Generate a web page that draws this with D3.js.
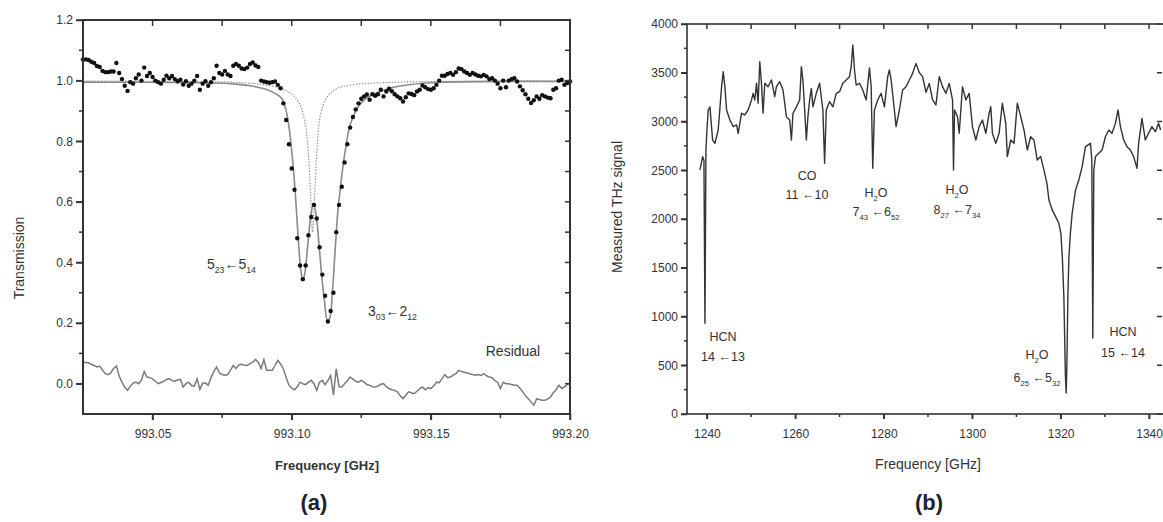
<!DOCTYPE html>
<html>
<head>
<meta charset="utf-8">
<script src="https://cdn.jsdelivr.net/npm/d3@7/dist/d3.min.js"></script>
<style>
body{margin:0;background:#fff;}
svg{position:absolute;left:0;top:0;}
text{font-family:"Liberation Sans",Arial,sans-serif;fill:#333;}
</style>
</head>
<body>
<script>
// ---- panel (a): transmission around 993.1 GHz ----
// measured points, sampled every 1 MHz starting at 993.025 GHz
var aStart = 993.025, aStep = 0.001;
var aTrans = [1.07,1.07,1.068,1.062,1.058,1.048,1.045,1.032,1.028,1.028,
  1.03,1.03,1.058,1.025,1.005,0.983,0.966,0.995,0.99,1.008,
  1.02,1.0,1.043,1.015,1.025,1.012,1.0,0.995,0.99,1.003,
  1.016,1.008,1.015,1.005,0.998,1.003,0.987,0.998,0.983,0.99,
  1.0,1.015,0.97,0.99,0.998,0.983,0.995,1.008,1.049,1.025,
  1.02,1.032,1.02,1.015,1.049,1.055,1.049,1.04,1.038,1.043,
  1.055,1.06,1.05,1.045,1.0,0.997,0.995,0.993,0.995,0.997,
  0.986,0.975,0.925,0.87,0.79,0.71,0.64,0.48,0.39,0.345,
  0.39,0.49,0.55,0.59,0.545,0.45,0.36,0.29,0.205,0.24,
  0.3,0.5,0.59,0.65,0.73,0.79,0.845,0.88,0.905,0.925,
  0.94,0.948,0.954,0.937,0.955,0.95,0.955,0.97,0.948,0.964,
  0.973,0.965,0.955,0.948,0.942,0.931,0.945,0.958,0.956,0.952,
  0.964,0.97,0.984,0.978,0.972,0.97,0.975,0.986,1.0,1.016,
  1.016,1.022,1.025,1.019,1.028,1.04,1.038,1.03,1.025,1.019,
  1.025,1.02,1.016,1.014,1.019,1.014,1.005,1.008,1.0,0.99,
  0.975,1.0,0.978,1.0,1.005,1.008,0.997,0.981,0.968,0.955,
  0.94,0.926,0.935,0.948,0.94,0.952,0.948,0.944,0.942,0.97,
  0.975,1.0,1.003,0.986,0.992,0.997];
var aResidual = [0.071,0.07,0.069,0.064,0.06,0.055,0.058,0.045,0.033,0.03,
  0.036,0.05,0.058,0.025,0.005,-0.012,-0.022,-0.008,0.002,0.005,
  0.0,0.012,0.04,0.022,0.02,0.016,0.008,0.0,0.004,0.008,
  0.014,0.017,0.01,0.008,0.012,0.014,-0.011,0.0,0.005,-0.006,
  -0.008,0.016,-0.019,0.002,0.002,-0.005,0.02,0.04,0.055,0.036,
  0.03,0.028,0.03,0.045,0.06,0.05,0.062,0.064,0.061,0.06,
  0.066,0.071,0.08,0.07,0.05,0.08,0.044,0.044,0.044,0.06,
  0.077,0.065,0.049,0.02,-0.005,-0.015,-0.02,-0.01,0.005,0.0,
  -0.003,0.005,0.011,0.0,-0.022,0.005,0.011,-0.003,0.01,0.027,
  -0.038,0.049,-0.01,-0.011,0.0,0.01,0.022,0.015,0.008,0.005,
  0.011,0.005,-0.003,-0.005,-0.01,-0.011,-0.008,-0.002,0.0,-0.01,
  -0.016,-0.02,-0.022,-0.027,-0.04,-0.049,-0.038,-0.027,-0.03,-0.033,
  -0.025,-0.016,-0.011,-0.02,-0.013,-0.016,-0.008,0.005,0.003,0.016,
  0.03,0.02,0.022,0.028,0.033,0.044,0.04,0.038,0.035,0.033,
  0.03,0.028,0.03,0.027,0.033,0.026,0.022,0.02,0.01,0.005,
  -0.016,0.005,0.0,0.0,-0.003,-0.005,-0.005,-0.015,-0.027,-0.04,
  -0.05,-0.06,-0.071,-0.05,-0.052,-0.055,-0.055,-0.05,-0.044,-0.03,
  -0.02,-0.005,-0.015,-0.011,-0.003,0.0];
// two-line fit (solid grey)
var aFitFreq = [993.025,993.067,993.0778,993.085,993.0904,993.094,993.0965,993.098,993.0992,993.1002,
  993.1012,993.1022,993.1032,993.104,993.1048,993.1058,993.1068,993.1078,993.1088,993.1098,
  993.1108,993.1118,993.1128,993.1136,993.1146,993.1156,993.1166,993.1176,993.1186,993.1196,
  993.1206,993.122,993.124,993.1265,993.132,993.139,993.15,993.2];
var aFitT = [0.995,0.993,0.99,0.983,0.972,0.958,0.94,0.9,0.835,0.75,
  0.64,0.5,0.38,0.34,0.37,0.46,0.55,0.595,0.555,0.46,
  0.355,0.27,0.21,0.215,0.3,0.44,0.57,0.655,0.73,0.79,
  0.84,0.88,0.915,0.94,0.965,0.982,0.993,0.997];
// narrow single-line profile (dotted)
var aLineFreq = [993.025,993.0778,993.0886,993.0958,993.1001,993.103,993.1048,993.1059,993.1068,993.1075,
  993.1082,993.1091,993.1102,993.1123,993.1159,993.1209,993.1389,993.2];
var aLineT = [0.998,0.995,0.988,0.975,0.955,0.92,0.86,0.77,0.62,0.5,
  0.62,0.77,0.88,0.94,0.972,0.985,0.995,0.999];
var aXTicks = [993.05, 993.10, 993.15, 993.20];
var aXMinor = [993.075, 993.125, 993.175];
var aYTicks = [0.0, 0.2, 0.4, 0.6, 0.8, 1.0, 1.2];
var aYMinor = [0.1, 0.3, 0.5, 0.7, 0.9, 1.1];

// ---- panel (b): THz spectrum ----
var bFreq = [1238.43,1239.04,1239.33,1239.56,1239.78,1240.01,1240.3,1240.69,1241.29,1241.81,
  1242.56,1243.32,1243.69,1244.07,1244.45,1245.2,1245.94,1246.71,1247.07,1247.83,
  1248.58,1249.32,1250.09,1250.45,1250.83,1251.22,1251.58,1251.96,1252.34,1252.7,
  1253.09,1253.83,1254.6,1255.34,1255.73,1256.47,1257.21,1257.98,1258.72,1259.11,
  1259.47,1260.24,1260.98,1261.36,1261.72,1262.11,1262.49,1262.85,1263.23,1263.62,
  1263.98,1264.74,1265.49,1266.23,1266.62,1267.0,1267.74,1268.49,1269.25,1270.0,
  1270.74,1271.51,1272.25,1272.64,1273.0,1273.38,1273.76,1274.51,1275.25,1276.02,
  1276.76,1277.15,1277.51,1277.89,1278.63,1279.4,1280.15,1280.89,1281.27,1281.66,
  1282.4,1282.78,1283.53,1284.27,1285.04,1285.78,1286.53,1287.29,1288.04,1288.78,
  1289.55,1290.29,1291.04,1291.8,1292.55,1293.29,1294.06,1294.8,1295.55,1295.77,
  1296.0,1296.67,1297.06,1297.8,1298.57,1299.31,1300.06,1300.82,1301.57,1302.31,
  1303.08,1303.82,1304.2,1304.57,1305.33,1306.08,1306.82,1307.59,1307.95,1308.71,
  1309.46,1310.2,1310.97,1311.71,1312.46,1313.22,1313.97,1314.71,1315.48,1316.22,
  1316.9,1317.35,1318.09,1318.86,1319.6,1320.06,1320.39,1320.73,1321.07,1321.25,
  1321.41,1321.63,1321.86,1322.2,1322.6,1323.37,1324.11,1324.86,1325.62,1326.75,
  1327.05,1327.27,1327.5,1327.88,1328.62,1329.37,1330.13,1330.88,1331.62,1332.39,
  1332.98,1333.52,1334.26,1335.0,1335.77,1336.52,1337.26,1337.64,1338.39,1339.15,
  1339.9,1340.64,1341.41,1342.15,1342.6];
var bSignal = [2503,2640,2600,930,2700,2913,3118,3150,2810,2776,
  2913,3357,3511,3357,3118,3015,2947,2965,2879,3084,
  3067,3118,3221,3289,3221,3392,3187,3613,3392,3084,
  3392,3357,3426,3255,3357,3408,3323,3050,3015,2810,
  3084,3150,3221,3562,3426,3118,2810,3050,3221,3340,
  3150,3289,3392,3118,2571,3118,3204,3150,3289,3306,
  3392,3426,3460,3562,3784,3528,3374,3392,3323,3221,
  3550,3357,2520,3118,3221,3289,3150,3460,3528,3426,
  3118,2947,3118,3323,3357,3426,3494,3596,3500,3460,
  3300,3390,3221,3170,3460,3357,3289,3391,3221,2503,
  3118,3050,2879,3357,3221,3289,2947,2810,2947,3015,
  2879,3084,3152,2879,2776,2879,3187,2981,2640,2810,
  2776,3187,3050,2913,2708,2844,2810,2605,2640,2503,
  2366,2195,2093,2024,1956,1850,1600,1200,400,215,
  500,1200,1600,1853,2058,2298,2400,2537,2742,2776,
  2600,780,2500,2640,2674,2708,2844,2913,2879,2981,
  3118,2947,2810,2742,2708,2640,2520,2776,3032,2810,
  2879,2947,2896,2981,2913];
var bXTicks = [1240, 1260, 1280, 1300, 1320, 1340];
var bXMinor = [1250, 1270, 1290, 1310, 1330];
var bYTicks = [0, 500, 1000, 1500, 2000, 2500, 3000, 3500, 4000];
var bYMinor = [250, 750, 1250, 1750, 2250, 2750, 3250, 3750];

var svg = d3.select("body").append("svg")
  .attr("width", 1163).attr("height", 522);
// separate top layer for plot boxes and tick marks
var over = d3.select("body").append("svg")
  .attr("width", 1163).attr("height", 522);

// text with subscripts: parts = [[text, isSub], ...]
function richText(x, y, parts, size, anchor) {
  var t = svg.append("text").attr("x", x).attr("y", y)
    .attr("font-size", size).attr("text-anchor", anchor || "middle");
  var down = false;
  parts.forEach(function(p) {
    var s = t.append("tspan").text(p[0]);
    if (p[1] && !down) { s.attr("dy", 4).attr("font-size", size * 0.62); down = true; }
    else if (p[1]) { s.attr("font-size", size * 0.62); }
    else if (down) { s.attr("dy", -4); down = false; }
  });
  return t;
}

function seg(x1, y1, x2, y2, w) {
  over.append("line").attr("x1", x1).attr("y1", y1).attr("x2", x2).attr("y2", y2)
    .attr("stroke", "#333").attr("stroke-width", w);
}
function box(x0, y0, x1, y1, w) {
  over.append("rect").attr("x", x0).attr("y", y0)
    .attr("width", x1 - x0).attr("height", y1 - y0)
    .attr("fill", "none").attr("stroke", "#333").attr("stroke-width", w);
}
// ticks from a scale: side "b","t","l","r"; len > 0 goes outward
function ticks(scale, vals, pos, side, len) {
  vals.forEach(function(v) {
    var p = scale(v);
    if (side === "b") seg(p, pos, p, pos + len, 1.5);
    if (side === "t") seg(p, pos, p, pos - len, 1.5);
    if (side === "l") seg(pos, p, pos - len, p, 1.5);
    if (side === "r") seg(pos, p, pos + len, p, 1.5);
  });
}

// ===== panel (a) =====
var xa = d3.scaleLinear().domain([993.025, 993.2]).range([83, 570]);
var ya = d3.scaleLinear().domain([-0.1, 1.2]).range([414, 20]);
var ga = svg.append("g");

var aFreq = aTrans.map(function(d, i) { return aStart + i * aStep; });

var lineA = d3.line().curve(d3.curveCatmullRom.alpha(0.5));

ga.append("path")
  .attr("d", lineA(aLineFreq.map(function(f, i) { return [xa(f), ya(aLineT[i])]; })))
  .attr("fill", "none").attr("stroke", "#999").attr("stroke-width", 1.2)
  .attr("stroke-dasharray", "1.5,1.5");

ga.append("path")
  .attr("d", lineA(aFitFreq.map(function(f, i) { return [xa(f), ya(aFitT[i])]; })))
  .attr("fill", "none").attr("stroke", "#8a8a8a").attr("stroke-width", 1.6);

ga.append("path")
  .attr("d", d3.line()(aFreq.map(function(f, i) { return [xa(f), ya(aResidual[i])]; })))
  .attr("fill", "none").attr("stroke", "#7a7a7a").attr("stroke-width", 1.5);

ga.selectAll("circle.pt").data(aTrans).enter().append("circle")
  .attr("class", "pt")
  .attr("cx", function(d, i) { return xa(aFreq[i]); })
  .attr("cy", function(d) { return ya(d); })
  .attr("r", 2.2).attr("fill", "#111");

// tick labels of (a) from d3 axes
var axA = ga.append("g");
axA.append("g").attr("transform", "translate(0,414)")
  .call(d3.axisBottom(xa).tickValues(aXTicks).tickSize(6).tickPadding(9).tickFormat(d3.format(".2f")));
axA.append("g").attr("transform", "translate(83,0)")
  .call(d3.axisLeft(ya).tickValues(aYTicks).tickSize(7).tickPadding(3).tickFormat(d3.format(".1f")));
axA.selectAll(".domain").remove();
axA.selectAll(".tick line").attr("stroke", "#333").attr("stroke-width", 1.5);
axA.selectAll(".tick text").attr("font-size", 12).attr("fill", "#333");

ticks(xa, aXTicks, 414, "b", 6);
ticks(xa, aXMinor, 414, "b", 4);
ticks(xa, aXTicks.concat(aXMinor), 20, "t", -6);
ticks(ya, aYTicks, 83, "l", 7);
ticks(ya, aYMinor, 83, "l", 4);
ticks(ya, aYTicks.concat(aYMinor), 570, "r", -5);
box(83, 20, 570, 414, 2);

richText(207, 269, [["5"], ["23", 1], ["\u21905"], ["14", 1]], 14, "start");
richText(368, 316, [["3"], ["03", 1], ["\u21902"], ["12", 1]], 14, "start");
svg.append("text").attr("x", 513).attr("y", 356).attr("text-anchor", "middle")
  .attr("font-size", 14).text("Residual");

svg.append("text").attr("transform", "translate(24,258) rotate(-90)")
  .attr("text-anchor", "middle").attr("font-size", 14).text("Transmission");
svg.append("text").attr("x", 327).attr("y", 470).attr("text-anchor", "middle")
  .attr("font-size", 13).attr("font-weight", "bold").text("Frequency [GHz]");
svg.append("text").attr("x", 314).attr("y", 510).attr("text-anchor", "middle")
  .attr("font-size", 22).attr("font-weight", "bold").style("fill", "#1f2330").text("(a)");

// ===== panel (b) =====
var xb = d3.scaleLinear().domain([1235.5, 1343.6]).range([687, 1165]);
var yb = d3.scaleLinear().domain([0, 4000]).range([414, 24]);
var gb = svg.append("g");

gb.append("path")
  .attr("d", d3.line()(bFreq.map(function(f, i) { return [xb(f), yb(bSignal[i])]; })))
  .attr("fill", "none").attr("stroke", "#333").attr("stroke-width", 1.4)
  .attr("stroke-linejoin", "round");

var axB = gb.append("g");
axB.append("g").attr("transform", "translate(0,414)")
  .call(d3.axisBottom(xb).tickValues(bXTicks).tickSize(5).tickPadding(10).tickFormat(d3.format("d")));
axB.append("g").attr("transform", "translate(687,0)")
  .call(d3.axisLeft(yb).tickValues(bYTicks).tickSize(6).tickPadding(3).tickFormat(d3.format("d")));
axB.selectAll(".domain").remove();
axB.selectAll(".tick line").attr("stroke", "#333").attr("stroke-width", 1.5);
axB.selectAll(".tick text").attr("font-size", 12).attr("fill", "#333");

ticks(xb, bXTicks, 414, "b", 5);
ticks(xb, bXMinor, 414, "b", 3);
ticks(xb, bXTicks.concat(bXMinor), 24, "t", -5);
ticks(yb, bYTicks, 687, "l", 6);
ticks(yb, bYMinor, 687, "l", 3);
ticks(yb, bYTicks, 1162, "r", -5);
box(687, 24, 1165, 414, 1.6);

// line labels
var lf = 12.5;
richText(723, 341, [["HCN"]], lf);
richText(723, 361, [["14 \u219013"]], lf);
richText(807, 180, [["CO"]], lf);
richText(807, 199, [["11 \u219010"]], lf);
richText(876, 197, [["H"], ["2", 1], ["O"]], lf);
richText(876, 216, [["7"], ["43", 1], [" \u21906"], ["52", 1]], lf);
richText(957, 194, [["H"], ["2", 1], ["O"]], lf);
richText(957, 214, [["8"], ["27", 1], [" \u21907"], ["34", 1]], lf);
richText(1037, 359, [["H"], ["2", 1], ["O"]], lf);
richText(1037, 382, [["6"], ["25", 1], [" \u21905"], ["32", 1]], lf);
richText(1123, 336, [["HCN"]], lf);
richText(1123, 357, [["15 \u219014"]], lf);

svg.append("text").attr("transform", "translate(622,207) rotate(-90)")
  .attr("text-anchor", "middle").attr("font-size", 14).text("Measured THz signal");
svg.append("text").attr("x", 928).attr("y", 469).attr("text-anchor", "middle")
  .attr("font-size", 14).text("Frequency [GHz]");
svg.append("text").attr("x", 929).attr("y", 510).attr("text-anchor", "middle")
  .attr("font-size", 22).attr("font-weight", "bold").style("fill", "#1f2330").text("(b)");
</script>
</body>
</html>
